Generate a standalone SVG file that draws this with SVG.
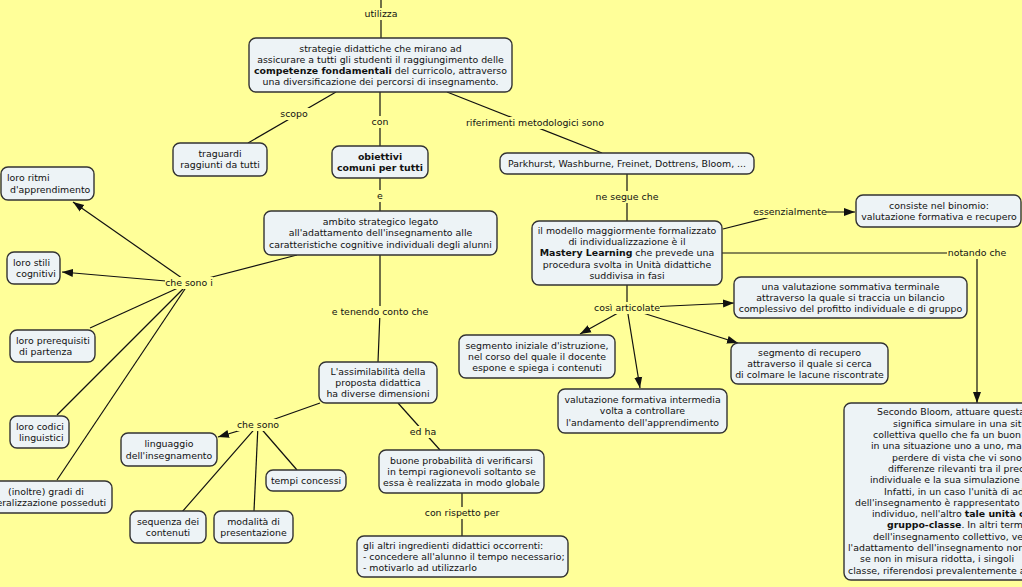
<svg xmlns="http://www.w3.org/2000/svg" width="1022" height="587" viewBox="0 0 1022 587">
<style>
text{font-family:"DejaVu Sans",Verdana,sans-serif;font-size:9.4px;fill:#111}
.m{text-anchor:middle}
.e{text-anchor:end}
.b{font-weight:bold}
.n rect{fill:#EDF3F6;stroke:#333;stroke-width:1.4}
.cn line,.cn path{stroke:#111;stroke-width:1.2;fill:none}
.lb rect{fill:#FFFF99}
</style>
<defs>
<marker id="ah" markerUnits="userSpaceOnUse" markerWidth="12" markerHeight="10" refX="11" refY="5" orient="auto"><path d="M0,1 L11,5 L0,9 Z" fill="#111"/></marker>
</defs>
<rect width="1022" height="587" fill="#FFFF99"/>
<g id="connectors" class="cn">
<line x1="381" y1="0" x2="381" y2="38"/>
<line x1="336" y1="92" x2="248" y2="143"/>
<line x1="380" y1="92" x2="380" y2="146"/>
<line x1="447" y1="92" x2="602" y2="153"/>
<line x1="380" y1="178" x2="380" y2="211"/>
<line x1="627" y1="174" x2="627" y2="221"/>
<line x1="723" y1="229" x2="790" y2="212"/>
<line x1="790" y1="212" x2="855" y2="212" marker-end="url(#ah)"/>
<path d="M722,253 H977 V403" marker-end="url(#ah)"/>
<line x1="627" y1="285" x2="627" y2="308"/>
<line x1="627" y1="308" x2="734" y2="303" marker-end="url(#ah)"/>
<line x1="627" y1="308" x2="580" y2="334" marker-end="url(#ah)"/>
<line x1="627" y1="308" x2="640" y2="388" marker-end="url(#ah)"/>
<line x1="627" y1="308" x2="738" y2="343" marker-end="url(#ah)"/>
<line x1="297" y1="255" x2="189" y2="283"/>
<line x1="189" y1="283" x2="73" y2="202" marker-end="url(#ah)"/>
<line x1="189" y1="283" x2="62" y2="272" marker-end="url(#ah)"/>
<line x1="189" y1="283" x2="90" y2="328"/>
<line x1="189" y1="283" x2="57" y2="415"/>
<line x1="189" y1="283" x2="57" y2="480"/>
<path d="M380,255 V312 L378,362"/>
<line x1="320" y1="403" x2="258" y2="425"/>
<line x1="258" y1="425" x2="218" y2="437" marker-end="url(#ah)"/>
<line x1="258" y1="425" x2="182" y2="512"/>
<line x1="258" y1="425" x2="254" y2="511"/>
<line x1="258" y1="425" x2="297" y2="470"/>
<line x1="398" y1="403" x2="440" y2="450"/>
<line x1="462" y1="493" x2="462" y2="536"/>
</g>
<g id="labels" class="lb">
<rect x="362" y="8" width="38" height="12"/><text class="m" x="381" y="17.4">utilizza</text>
<rect x="278" y="108" width="32" height="12"/><text class="m" x="294" y="117.4">scopo</text>
<rect x="369" y="116" width="22" height="12"/><text class="m" x="380" y="125.4">con</text>
<rect x="466" y="117" width="138" height="12"/><text class="m" x="535" y="126.4">riferimenti metodologici sono</text>
<rect x="376" y="190" width="8" height="12"/><text class="m" x="380" y="199.4">e</text>
<rect x="595" y="191" width="64" height="12"/><text class="m" x="627" y="200.4">ne segue che</text>
<rect x="754" y="206" width="72" height="12"/><text class="m" x="790" y="215.4">essenzialmente</text>
<rect x="947" y="247" width="60" height="12"/><text class="m" x="977" y="256.4">notando che</text>
<rect x="165" y="277" width="48" height="12"/><text class="m" x="189" y="286.4">che sono i</text>
<rect x="332" y="306" width="97" height="12"/><text class="m" x="380" y="315.4">e tenendo conto che</text>
<rect x="594" y="302" width="66" height="12"/><text class="m" x="627" y="311.4">così articolate</text>
<rect x="237" y="419" width="42" height="12"/><text class="m" x="258" y="428.4">che sono</text>
<rect x="409" y="426" width="28" height="12"/><text class="m" x="423" y="435.4">ed ha</text>
<rect x="424" y="507" width="76" height="12"/><text class="m" x="462" y="516.4">con rispetto per</text>
</g>
<g id="n-strategie" class="n"><rect x="249" y="38" width="263" height="54" rx="7"/>
<text class="m" x="380.5" y="51.6">strategie didattiche che mirano ad</text>
<text class="m" x="380.5" y="62.8">assicurare a tutti gli studenti il raggiungimento delle</text>
<text class="m" x="380.5" y="74"><tspan class="b">competenze fondamentali</tspan> del curricolo, attraverso</text>
<text class="m" x="380.5" y="85.2">una diversificazione dei percorsi di insegnamento.</text></g>
<g id="n-traguardi" class="n"><rect x="173" y="143" width="94" height="33" rx="7"/>
<text class="m" x="220" y="157">traguardi</text><text class="m" x="220" y="168.2">raggiunti da tutti</text></g>
<g id="n-obiettivi" class="n"><rect x="332" y="146" width="96" height="32" rx="7"/>
<text class="m b" x="380" y="159.8">obiettivi</text><text class="m b" x="380" y="171">comuni per tutti</text></g>
<g id="n-ambito" class="n"><rect x="264" y="211" width="233" height="44" rx="7"/>
<text class="m" x="380.5" y="225.2">ambito strategico legato</text>
<text class="m" x="380.5" y="236.4">all'adattamento dell'insegnamento alle</text>
<text class="m" x="380.5" y="247.6">caratteristiche cognitive individuali degli alunni</text></g>
<g id="n-parkhurst" class="n"><rect x="500" y="153" width="254" height="21" rx="7"/>
<text class="m" x="627" y="166.9">Parkhurst, Washburne, Freinet, Dottrens, Bloom, ...</text></g>
<g id="n-modello" class="n"><rect x="532" y="221" width="190" height="64" rx="7"/>
<text class="m" x="627" y="234">il modello maggiormente formalizzato</text>
<text class="m" x="627" y="245.2">di individualizzazione è il</text>
<text class="m" x="627" y="256.4"><tspan class="b">Mastery Learning</tspan> che prevede una</text>
<text class="m" x="627" y="267.6">procedura svolta in Unità didattiche</text>
<text class="m" x="627" y="278.8">suddivisa in fasi</text></g>
<g id="n-consiste" class="n"><rect x="856" y="195" width="165" height="32" rx="7"/>
<text class="m" x="939" y="208.8">consiste nel binomio:</text>
<text class="m" x="939" y="220">valutazione formativa e recupero</text></g>
<g id="n-sommativa" class="n"><rect x="734" y="277" width="233" height="41" rx="7"/>
<text class="m" x="850.5" y="289.7">una valutazione sommativa terminale</text>
<text class="m" x="850.5" y="300.9">attraverso la quale si traccia un bilancio</text>
<text class="m" x="850.5" y="312.1">complessivo del profitto individuale e di gruppo</text></g>
<g id="n-iniziale" class="n"><rect x="459" y="335" width="156" height="43" rx="7"/>
<text class="m" x="537" y="348.7">segmento iniziale d'istruzione,</text>
<text class="m" x="537" y="359.9">nel corso del quale il docente</text>
<text class="m" x="537" y="371.1">espone e spiega i contenuti</text></g>
<g id="n-intermedia" class="n"><rect x="558" y="389" width="169" height="44" rx="7"/>
<text class="m" x="642.5" y="403.2">valutazione formativa intermedia</text>
<text class="m" x="642.5" y="414.4">volta a controllare</text>
<text class="m" x="642.5" y="425.6">l'andamento dell'apprendimento</text></g>
<g id="n-recupero" class="n"><rect x="731" y="343" width="157" height="41" rx="7"/>
<text class="m" x="809.5" y="355.7">segmento di recupero</text>
<text class="m" x="809.5" y="366.9">attraverso il quale si cerca</text>
<text class="m" x="809.5" y="378.1">di colmare le lacune riscontrate</text></g>
<g id="n-bloom" class="n"><rect x="844" y="403" width="200" height="177" rx="7"/>
<text x="877" y="415.4">Secondo Bloom, attuare questa</text>
<text x="893" y="426.7">significa simulare in una situ</text>
<text x="873" y="438">collettiva quello che fa un buon</text>
<text x="871" y="449.3">in una situazione uno a uno, ma</text>
<text x="892" y="460.6">perdere di vista che vi sono c</text>
<text x="888" y="471.9">differenze rilevanti tra il prec</text>
<text x="870" y="483.2">individuale e la sua simulazione</text>
<text x="884" y="494.5">Infatti, in un caso l'unità di ada</text>
<text x="855" y="505.8">dell'insegnamento è rappresentato</text>
<text x="872" y="517.1">individuo, nell'altro <tspan class="b">tale unità c</tspan></text>
<text x="887" y="528.4"><tspan class="b">gruppo-classe</tspan>. In altri termin</text>
<text x="873" y="539.7">dell'insegnamento collettivo, ver</text>
<text x="848" y="551">l'adattamento dell'insegnamento non</text>
<text x="860" y="562.3">se non in misura ridotta, i singoli</text>
<text x="848" y="573.6">classe, riferendosi prevalentemente a</text></g>
<g id="n-ritmi" class="n"><rect x="1" y="167" width="93" height="33" rx="7"/>
<text x="7" y="181.3">loro ritmi</text><text x="10" y="192.5">d'apprendimento</text></g>
<g id="n-stili" class="n"><rect x="7" y="252" width="53" height="32" rx="7"/>
<text x="13" y="265.8">loro stili</text><text x="16" y="277">cognitivi</text></g>
<g id="n-prerequisiti" class="n"><rect x="10" y="330" width="85" height="32" rx="7"/>
<text x="16" y="343.8">loro prerequisiti</text><text x="19" y="355">di partenza</text></g>
<g id="n-codici" class="n"><rect x="10" y="416" width="59" height="32" rx="7"/>
<text x="16" y="429.8">loro codici</text><text x="19" y="441">linguistici</text></g>
<g id="n-inoltre" class="n"><rect x="-40" y="481" width="152" height="32" rx="7"/>
<text x="8" y="494.8">(inoltre) gradi di</text><text class="e" x="106" y="506">generalizzazione posseduti</text></g>
<g id="n-assimilabilita" class="n"><rect x="319" y="362" width="118" height="41" rx="7"/>
<text class="m" x="378" y="374.7">L'assimilabilità della</text>
<text class="m" x="378" y="385.9">proposta didattica</text>
<text class="m" x="378" y="397.1">ha diverse dimensioni</text></g>
<g id="n-linguaggio" class="n"><rect x="121" y="433" width="96" height="33" rx="7"/>
<text class="m" x="169" y="447.3">linguaggio</text><text class="m" x="169" y="458.5">dell'insegnamento</text></g>
<g id="n-tempi" class="n"><rect x="266" y="470" width="80" height="21" rx="7"/>
<text class="m" x="306" y="483.9">tempi concessi</text></g>
<g id="n-sequenza" class="n"><rect x="130" y="511" width="76" height="32" rx="7"/>
<text class="m" x="168" y="524.8">sequenza dei</text><text class="m" x="168" y="536">contenuti</text></g>
<g id="n-modalita" class="n"><rect x="214" y="511" width="79" height="32" rx="7"/>
<text class="m" x="253.5" y="524.8">modalità di</text><text class="m" x="253.5" y="536">presentazione</text></g>
<g id="n-buone" class="n"><rect x="379" y="450" width="165" height="43" rx="7"/>
<text class="m" x="461.5" y="463.7">buone probabilità di verificarsi</text>
<text class="m" x="461.5" y="474.9">in tempi ragionevoli soltanto se</text>
<text class="m" x="461.5" y="486.1">essa è realizzata in modo globale</text></g>
<g id="n-altri" class="n"><rect x="357" y="536" width="211" height="41" rx="7"/>
<text x="363" y="548.7">gli altri ingredienti didattici occorrenti:</text>
<text x="363" y="559.9">- concedere all'alunno il tempo necessario;</text>
<text x="363" y="571.1">- motivarlo ad utilizzarlo</text></g>
</svg>
